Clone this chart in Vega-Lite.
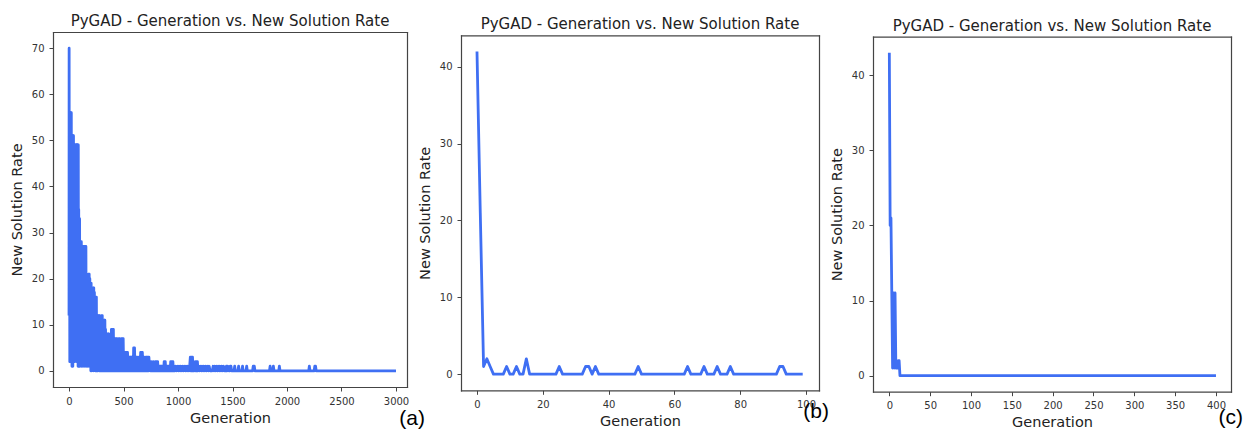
{
"$schema": "https://vega.github.io/schema/vega-lite/v6.json",
"background": "white",
"padding": {"left": 9, "top": 14, "right": 0, "bottom": 0},
"bounds": "flush",
"spacing": 54,
"config": {
 "font": "DejaVu Sans",
 "view": {"stroke": null},
 "axis": {"grid": false, "domain": true, "domainColor": "#444444", "domainWidth": 1.2, "domainCap": "square", "tickColor": "#444444", "tickSize": 4, "tickWidth": 1, "labelFontSize": 10, "labelColor": "#333333", "labelPadding": 5, "titleFontSize": 14.5, "titleFontWeight": "normal", "titleColor": "#222222", "format": "d"},
 "axisX": {"titlePadding": 5},
 "axisY": {"titlePadding": 7},
 "title": {"fontSize": 15, "fontWeight": "normal", "color": "#222222", "offset": 3}
},
"datasets": {
 "a": [
{"g":0,"r":12},{"g":1,"r":70},{"g":3,"r":20},{"g":5,"r":56},{"g":7,"r":2},{"g":9,"r":56},{"g":11,"r":2},{"g":13,"r":56},{"g":15,"r":2},{"g":17,"r":56},{"g":19,"r":2},{"g":21,"r":56},{"g":23,"r":2},{"g":25,"r":51},{"g":27,"r":1},{"g":29,"r":51},{"g":31,"r":1},{"g":33,"r":51},{"g":35,"r":1},{"g":37,"r":51},{"g":39,"r":2},{"g":41,"r":51},{"g":43,"r":2},{"g":45,"r":49},{"g":47,"r":2},{"g":49,"r":49},{"g":51,"r":2},{"g":53,"r":49},{"g":55,"r":12},{"g":57,"r":49},{"g":59,"r":11},{"g":61,"r":49},{"g":63,"r":12},{"g":65,"r":49},{"g":67,"r":10},{"g":69,"r":49},{"g":71,"r":2},{"g":73,"r":49},{"g":75,"r":2},{"g":77,"r":49},{"g":79,"r":3},{"g":81,"r":49},{"g":83,"r":1},{"g":85,"r":49},{"g":87,"r":1},{"g":89,"r":35},{"g":91,"r":1},{"g":93,"r":33},{"g":95,"r":1},{"g":97,"r":33},{"g":99,"r":1},
{"g":101,"r":28},{"g":104,"r":2},{"g":107,"r":28},{"g":110,"r":2},{"g":113,"r":28},{"g":116,"r":1},{"g":119,"r":27},{"g":122,"r":2},{"g":125,"r":27},{"g":128,"r":1},{"g":131,"r":27},{"g":134,"r":2},{"g":137,"r":27},{"g":140,"r":2},{"g":143,"r":27},{"g":146,"r":1},{"g":149,"r":27},{"g":152,"r":2},{"g":155,"r":27},{"g":158,"r":1},
{"g":161,"r":19},{"g":164,"r":2},{"g":167,"r":19},{"g":170,"r":1},{"g":173,"r":19},{"g":176,"r":2},{"g":179,"r":21},{"g":182,"r":1},{"g":185,"r":21},{"g":188,"r":2},{"g":191,"r":20},{"g":194,"r":1},{"g":197,"r":19},{"g":200,"r":0},{"g":203,"r":19},{"g":206,"r":0},
{"g":209,"r":18},{"g":212,"r":1},{"g":215,"r":18},{"g":218,"r":1},{"g":221,"r":18},{"g":224,"r":0},{"g":227,"r":18},{"g":230,"r":1},{"g":233,"r":17},{"g":236,"r":1},{"g":239,"r":16},{"g":242,"r":0},{"g":245,"r":16},{"g":248,"r":0},{"g":251,"r":16},{"g":254,"r":0},
{"g":257,"r":12},{"g":260,"r":0},{"g":263,"r":12},{"g":266,"r":0},{"g":269,"r":12},{"g":272,"r":1},{"g":275,"r":12},{"g":278,"r":0},{"g":281,"r":12},{"g":284,"r":0},{"g":287,"r":11},{"g":290,"r":0},{"g":293,"r":11},{"g":296,"r":0},{"g":299,"r":12},{"g":302,"r":0},{"g":305,"r":12},{"g":308,"r":0},{"g":311,"r":11},{"g":314,"r":0},{"g":317,"r":11},{"g":320,"r":0},{"g":323,"r":11},{"g":326,"r":0},{"g":329,"r":11},{"g":332,"r":0},{"g":335,"r":9},{"g":338,"r":0},{"g":341,"r":8},{"g":344,"r":0},
{"g":347,"r":8},{"g":350,"r":0},{"g":353,"r":8},{"g":356,"r":0},{"g":359,"r":8},{"g":362,"r":0},{"g":365,"r":8},{"g":368,"r":0},{"g":371,"r":7},{"g":374,"r":0},{"g":377,"r":6},{"g":380,"r":0},{"g":383,"r":6},{"g":386,"r":0},{"g":389,"r":9},{"g":392,"r":0},{"g":395,"r":9},{"g":398,"r":0},{"g":401,"r":9},{"g":404,"r":1},{"g":407,"r":9},{"g":410,"r":0},{"g":413,"r":7},{"g":416,"r":0},{"g":419,"r":7},{"g":422,"r":0},
{"g":425,"r":7},{"g":429,"r":0},{"g":433,"r":7},{"g":437,"r":0},{"g":441,"r":7},{"g":445,"r":1},{"g":449,"r":6},{"g":453,"r":0},{"g":457,"r":7},{"g":461,"r":0},{"g":465,"r":7},{"g":469,"r":0},{"g":473,"r":5},{"g":477,"r":0},{"g":481,"r":7},{"g":485,"r":0},{"g":489,"r":7},{"g":493,"r":1},{"g":497,"r":7},{"g":501,"r":0},{"g":505,"r":4},
{"g":509,"r":0},{"g":513,"r":4},{"g":517,"r":0},{"g":521,"r":4},{"g":525,"r":1},{"g":529,"r":4},{"g":533,"r":0},{"g":537,"r":4},{"g":541,"r":0},{"g":545,"r":3},{"g":549,"r":0},{"g":553,"r":3},{"g":557,"r":0},{"g":561,"r":3},{"g":565,"r":1},{"g":569,"r":3},{"g":573,"r":0},{"g":577,"r":3},{"g":581,"r":0},{"g":585,"r":2},{"g":589,"r":0},{"g":593,"r":5},{"g":597,"r":0},{"g":601,"r":5},{"g":605,"r":0},
{"g":609,"r":3},{"g":613,"r":0},{"g":617,"r":3},{"g":621,"r":1},{"g":625,"r":3},{"g":629,"r":0},{"g":633,"r":2},{"g":637,"r":0},{"g":641,"r":3},{"g":645,"r":0},{"g":649,"r":3},{"g":653,"r":0},{"g":657,"r":4},{"g":661,"r":0},{"g":665,"r":4},{"g":669,"r":1},{"g":673,"r":4},{"g":677,"r":0},{"g":681,"r":3},{"g":685,"r":0},{"g":689,"r":3},{"g":693,"r":0},{"g":697,"r":2},{"g":701,"r":0},{"g":705,"r":3},{"g":709,"r":0},
{"g":713,"r":3},{"g":718,"r":0},{"g":723,"r":3},{"g":728,"r":0},{"g":733,"r":3},{"g":738,"r":1},{"g":743,"r":2},{"g":748,"r":0},{"g":753,"r":2},{"g":758,"r":0},{"g":763,"r":1},{"g":768,"r":0},{"g":773,"r":2},{"g":778,"r":0},{"g":783,"r":1},{"g":788,"r":0},{"g":793,"r":2},{"g":798,"r":0},{"g":803,"r":2},{"g":808,"r":0},{"g":813,"r":2},{"g":818,"r":0},{"g":823,"r":1},{"g":828,"r":0},{"g":833,"r":1},{"g":838,"r":0},{"g":843,"r":1},{"g":848,"r":0},{"g":853,"r":1},{"g":858,"r":0},{"g":863,"r":1},{"g":868,"r":0},{"g":873,"r":2},{"g":878,"r":0},{"g":883,"r":2},{"g":888,"r":0},{"g":893,"r":1},{"g":898,"r":0},{"g":903,"r":1},{"g":908,"r":0},{"g":913,"r":1},{"g":918,"r":0},{"g":923,"r":1},{"g":928,"r":0},{"g":933,"r":2},{"g":938,"r":0},{"g":943,"r":2},{"g":948,"r":0},{"g":953,"r":2},{"g":958,"r":0},
{"g":963,"r":1},{"g":971,"r":0},{"g":979,"r":1},{"g":987,"r":0},{"g":995,"r":1},{"g":1003,"r":0},{"g":1011,"r":1},{"g":1019,"r":0},{"g":1027,"r":1},{"g":1035,"r":0},{"g":1043,"r":1},{"g":1051,"r":0},{"g":1059,"r":1},{"g":1067,"r":0},{"g":1075,"r":1},{"g":1083,"r":0},{"g":1091,"r":1},{"g":1099,"r":0},{"g":1107,"r":1},
{"g":1113,"r":3},{"g":1118,"r":0},{"g":1123,"r":3},{"g":1128,"r":0},{"g":1133,"r":3},{"g":1138,"r":0},{"g":1143,"r":1},{"g":1148,"r":0},{"g":1153,"r":1},{"g":1158,"r":2},{"g":1163,"r":0},{"g":1168,"r":2},{"g":1173,"r":0},{"g":1178,"r":2},{"g":1183,"r":0},
{"g":1190,"r":1},{"g":1198,"r":0},{"g":1206,"r":1},{"g":1214,"r":0},{"g":1222,"r":1},{"g":1230,"r":0},{"g":1238,"r":1},{"g":1246,"r":0},{"g":1254,"r":1},{"g":1262,"r":0},{"g":1270,"r":1},{"g":1278,"r":0},{"g":1286,"r":1},{"g":1294,"r":0},{"g":1314,"r":0},{"g":1322,"r":1},{"g":1330,"r":0},{"g":1338,"r":1},{"g":1346,"r":0},{"g":1354,"r":1},{"g":1362,"r":0},{"g":1370,"r":1},{"g":1378,"r":0},{"g":1386,"r":1},{"g":1394,"r":0},{"g":1402,"r":1},{"g":1410,"r":0},{"g":1418,"r":1},{"g":1426,"r":0},{"g":1438,"r":0},{"g":1444,"r":1},{"g":1450,"r":0},{"g":1458,"r":1},{"g":1466,"r":0},
{"g":1474,"r":0},{"g":1480,"r":1},{"g":1486,"r":1},{"g":1492,"r":0},{"g":1514,"r":0},{"g":1520,"r":1},{"g":1526,"r":0},{"g":1550,"r":0},{"g":1556,"r":1},{"g":1562,"r":0},{"g":1586,"r":0},{"g":1592,"r":1},{"g":1598,"r":0},{"g":1624,"r":0},{"g":1630,"r":1},{"g":1636,"r":0},{"g":1684,"r":0},{"g":1690,"r":1},{"g":1700,"r":1},{"g":1706,"r":0},{"g":1839,"r":0},{"g":1845,"r":1},{"g":1851,"r":0},{"g":1869,"r":0},{"g":1875,"r":1},{"g":1881,"r":0},{"g":1924,"r":0},{"g":1930,"r":1},{"g":1936,"r":0},{"g":2199,"r":0},{"g":2205,"r":1},{"g":2211,"r":0},{"g":2249,"r":0},{"g":2255,"r":1},{"g":2262,"r":1},{"g":2268,"r":0},{"g":3000,"r":0}
 ],
 "b": [
{"g":0,"r":42},{"g":1,"r":21},{"g":2,"r":1},{"g":3,"r":2},{"g":4,"r":1},{"g":5,"r":0},{"g":8,"r":0},{"g":9,"r":1},{"g":10,"r":0},{"g":11,"r":0},{"g":12,"r":1},{"g":13,"r":0},{"g":14,"r":0},{"g":15,"r":2},{"g":16,"r":0},{"g":24,"r":0},{"g":25,"r":1},{"g":26,"r":0},{"g":32,"r":0},{"g":33,"r":1},{"g":34,"r":1},{"g":35,"r":0},{"g":36,"r":1},{"g":37,"r":0},{"g":48,"r":0},{"g":49,"r":1},{"g":50,"r":0},{"g":63,"r":0},{"g":64,"r":1},{"g":65,"r":0},{"g":68,"r":0},{"g":69,"r":1},{"g":70,"r":0},{"g":72,"r":0},{"g":73,"r":1},{"g":74,"r":0},{"g":76,"r":0},{"g":77,"r":1},{"g":78,"r":0},{"g":91,"r":0},{"g":92,"r":1},{"g":93,"r":1},{"g":94,"r":0},{"g":99,"r":0}
 ],
 "c": [
{"g":0,"r":43},{"g":1,"r":20},{"g":2,"r":21},{"g":3,"r":11},{"g":4,"r":1},{"g":5,"r":11},{"g":6,"r":1},{"g":7,"r":11},{"g":8,"r":1},{"g":9,"r":1},{"g":10,"r":1},{"g":11,"r":2},{"g":12,"r":2},{"g":13,"r":0},{"g":400,"r":0}
 ]
},
"hconcat": [
 {
  "width": 354, "height": 355,
  "title": "PyGAD - Generation vs. New Solution Rate",
  "resolve": {"axis": {"x": "independent", "y": "independent"}},
  "layer": [
   {"data": {"name": "a"},
    "mark": {"type": "line", "color": "#3f6ff3", "strokeWidth": 2.8, "strokeJoin": "round"},
    "encoding": {
     "x": {"field": "g", "type": "quantitative", "scale": {"domain": [-147, 3101], "nice": false, "zero": false}, "axis": {"orient": "bottom", "title": "Generation", "values": [0, 500, 1000, 1500, 2000, 2500, 3000]}},
     "y": {"field": "r", "type": "quantitative", "scale": {"domain": [-3.5, 73.5], "nice": false, "zero": false}, "axis": {"orient": "left", "title": "New Solution Rate", "values": [0, 10, 20, 30, 40, 50, 60, 70]}}
    }},
   {"data": {"values": [{"label": "(a)"}]},
    "mark": {"type": "text", "font": "Liberation Sans", "fontSize": 21, "align": "right", "baseline": "middle", "dx": 18, "dy": 32, "color": "#000000"},
    "encoding": {
     "x": {"datum": 3101, "axis": {"orient": "top", "title": null, "labels": false, "ticks": false}},
     "y": {"datum": -3.5, "axis": {"orient": "right", "title": null, "labels": false, "ticks": false}},
     "text": {"field": "label"}}}
  ]
 },
 {
  "width": 358, "height": 358.3,
  "title": {"text": "PyGAD - Generation vs. New Solution Rate", "offset": -0.3},
  "resolve": {"axis": {"x": "independent", "y": "independent"}},
  "layer": [
   {"data": {"name": "b"},
    "mark": {"type": "line", "color": "#3f6ff3", "strokeWidth": 2.8, "strokeJoin": "round"},
    "encoding": {
     "x": {"field": "g", "type": "quantitative", "scale": {"domain": [-4.86, 103.95], "nice": false, "zero": false}, "axis": {"orient": "bottom", "title": "Generation", "values": [0, 20, 40, 60, 80, 100]}},
     "y": {"field": "r", "type": "quantitative", "scale": {"domain": [-2.1, 44.1], "range": [358.3, 3.3], "nice": false, "zero": false}, "axis": {"orient": "left", "title": "New Solution Rate", "values": [0, 10, 20, 30, 40]}}
    }},
   {"data": {"values": [{"label": "(b)"}]},
    "mark": {"type": "text", "font": "Liberation Sans", "fontSize": 21, "align": "right", "baseline": "middle", "dx": 10, "dy": 22, "color": "#000000"},
    "encoding": {
     "x": {"datum": 103.95, "axis": {"orient": "top", "title": null, "labels": false, "ticks": false, "offset": -3.3}},
     "y": {"datum": -2.1, "axis": {"orient": "right", "title": null, "labels": false, "ticks": false}},
     "text": {"field": "label"}}}
  ]
 },
 {
  "width": 358, "height": 359.7,
  "title": {"text": "PyGAD - Generation vs. New Solution Rate", "offset": -1.7},
  "resolve": {"axis": {"x": "independent", "y": "independent"}},
  "layer": [
   {"data": {"name": "c"},
    "mark": {"type": "line", "color": "#3f6ff3", "strokeWidth": 2.8, "strokeJoin": "round"},
    "encoding": {
     "x": {"field": "g", "type": "quantitative", "scale": {"domain": [-20, 418.4], "nice": false, "zero": false}, "axis": {"orient": "bottom", "title": "Generation", "values": [0, 50, 100, 150, 200, 250, 300, 350, 400]}},
     "y": {"field": "r", "type": "quantitative", "scale": {"domain": [-2.15, 45.15], "range": [359.7, 4.7], "nice": false, "zero": false}, "axis": {"orient": "left", "title": "New Solution Rate", "values": [0, 10, 20, 30, 40]}}
    }},
   {"data": {"values": [{"label": "(c)"}]},
    "mark": {"type": "text", "font": "Liberation Sans", "fontSize": 21, "align": "right", "baseline": "middle", "dx": 12, "dy": 26, "color": "#000000"},
    "encoding": {
     "x": {"datum": 418.4, "axis": {"orient": "top", "title": null, "labels": false, "ticks": false, "offset": -4.7}},
     "y": {"datum": -2.15, "axis": {"orient": "right", "title": null, "labels": false, "ticks": false}},
     "text": {"field": "label"}}}
  ]
 }
]
}
